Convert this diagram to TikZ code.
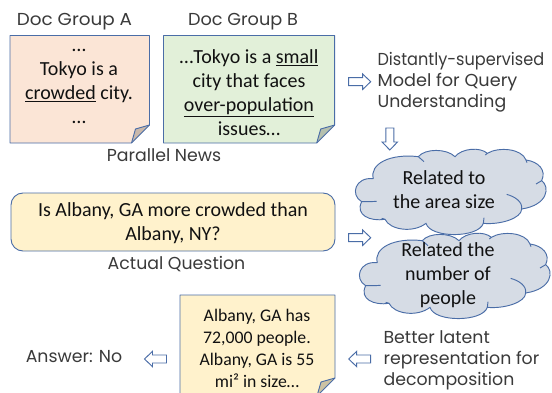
\documentclass[tikz,border=0pt]{standalone}
\usepackage{fontspec}
\usepackage{graphicx}
\setmainfont{Carlito}
\newfontfamily\labelfont{Poppins}
\definecolor{edge}{HTML}{4A6DA7}
\definecolor{peach}{HTML}{FBE5D6}
\definecolor{mint}{HTML}{E2F0D9}
\definecolor{cream}{HTML}{FFF2CC}
\definecolor{cloudfill}{HTML}{D6DCE5}
\definecolor{foldA}{HTML}{C9B8AB}
\definecolor{foldB}{HTML}{B5C0AE}
\definecolor{foldC}{HTML}{CCC2A3}
\definecolor{inkc}{HTML}{111111}
\definecolor{labelc}{HTML}{3A3A3A}
\newcommand{\docbox}[6]{% x0,y0,x1,y1,fill,fold
  \fill[#5] (#1,#2) -- (#3,#2) -- (#3,#4-18) -- (#3-18,#4) -- (#1,#4) -- cycle;
  \fill[#6] (#3,#4-18) -- (#3-14,#4-14) -- (#3-18,#4) -- cycle;
  \draw[edge,line width=.7pt,line join=round] (#3,#4-18) -- (#3-14,#4-14) -- (#3-18,#4);
  \draw[edge,line width=.7pt,line join=round] (#3-18,#4) -- (#1,#4) -- (#1,#2) -- (#3,#2) -- (#3,#4-18) -- cycle;
}
\newcommand{\cloudshape}[2]{%
  \begin{scope}[shift={(#1,#2)},x=.25pt,y=-.25pt]
  \fill[cloudfill] (70,116) .. controls (58,72) and (120,40) .. (205,50)
    .. controls (225,25) and (290,25) .. (315,50)
    .. controls (335,25) and (390,20) .. (412,40)
    .. controls (445,20) and (515,25) .. (528,60)
    .. controls (565,65) and (590,90) .. (575,122)
    .. controls (600,140) and (595,195) .. (515,207)
    .. controls (515,235) and (450,255) .. (400,250)
    .. controls (385,295) and (240,295) .. (228,250)
    .. controls (190,280) and (120,270) .. (105,238)
    .. controls (60,245) and (15,225) .. (35,185)
    .. controls (0,165) and (15,110) .. (70,116) -- cycle;
  \draw[edge,line width=.7pt] (70,116) .. controls (58,72) and (120,40) .. (205,50)
    .. controls (225,25) and (290,25) .. (315,50)
    .. controls (335,25) and (390,20) .. (412,40)
    .. controls (445,20) and (515,25) .. (528,60)
    .. controls (565,65) and (590,90) .. (575,122)
    .. controls (600,140) and (595,195) .. (515,207)
    .. controls (515,235) and (450,255) .. (400,250)
    .. controls (385,295) and (240,295) .. (228,250)
    .. controls (190,280) and (120,270) .. (105,238)
    .. controls (60,245) and (15,225) .. (35,185)
    .. controls (0,165) and (15,110) .. (70,116);
  \draw[edge,line width=.7pt] (205,50) -- (222,65);
  \draw[edge,line width=.7pt] (412,40) -- (406,45);
  \draw[edge,line width=.7pt] (528,60) -- (531,68);
  \draw[edge,line width=.7pt] (575,122) -- (558,132);
  \draw[edge,line width=.7pt] (515,207) .. controls (518,185) and (495,170) .. (470,163);
  \draw[edge,line width=.7pt] (400,250) -- (402,233);
  \draw[edge,line width=.7pt] (105,238) -- (95,235);
  \draw[edge,line width=.7pt] (35,185) .. controls (50,185) and (65,185) .. (80,184);
  \end{scope}
}
\newcommand{\blockarrow}[3]{% centre x, centre y, rotation
  \draw[edge,fill=white,line width=.7pt,line join=miter,shift={(#1,#2)},rotate=#3]
    (-11,-4) -- (3,-4) -- (3,-7.7) -- (11,0) -- (3,7.7) -- (3,4) -- (-11,4) -- cycle;
}
\tikzset{
  x=.75pt,y=-.75pt,
  lbl/.style={font=\labelfont\fontsize{13}{15.8}\selectfont,text=labelc,inner sep=0pt},
  lblleft/.style={lbl,align=left,anchor=west},
  body/.style={font=\fontsize{15}{18}\selectfont,text=inkc,align=center,inner sep=0pt},
  small/.style={font=\fontsize{13.3}{16.3}\selectfont,text=inkc,align=center,inner sep=0pt},
}
\begin{document}
\begin{tikzpicture}
\clip (0,0) rectangle (552,392);
\fill[white] (0,0) rectangle (552,392);
\docbox{10}{35.5}{149.5}{143}{peach}{foldA}
\docbox{163.5}{35.5}{334.7}{143}{mint}{foldB}
\docbox{180}{295}{335}{396}{cream}{foldC}
\draw[edge,line width=.7pt,fill=cream,rounded corners=9pt] (11,193) rectangle (335,251);
\cloudshape{350}{140}
\cloudshape{354}{224}

\node[lbl] (ga) at (74.5,22) {\scalebox{1.06}[1]{Doc Group A}};
\node[lbl] (gb) at (243,22) {\scalebox{1.02}[1]{Doc Group B}};
\node[lbl] (pn) at (164,155) {Parallel News};
\node[lbl] (aq) at (176.5,264) {Actual Question};
\node[lbl] (an) at (74,357) {Answer: No};
\node[lblleft] (ds) at (377.3,82) {\scalebox{.93}[1]{Distantly-supervised}\\\scalebox{1.02}[1]{Model for Query}\\Understanding};
\node[lblleft] (bl) at (383.3,360) {Better latent\\representation for\\decomposition};

\node[body] (ta) at (79,86.5) {…\\Tokyo is a\\\underline{crowded} city.\\…};
\node[body] (tb) at (249,92.5) {…Tokyo is a \underline{small}\\city that faces\\\underline{over-population}\\issues…};
\node[body] (tq) at (173,223) {Is Albany, GA more crowded than\\Albany, NY?};
\node[small] (tc) at (257,348.5) {Albany, GA has\\72,000 people.\\Albany, GA is 55\\mi² in size…};
\node[body] (c1) at (444,190) {Related to\\the area size};
\node[body] (c2) at (448,275) {Related the\\number of\\people};

\blockarrow{359.7}{81.7}{0}
\blockarrow{389.8}{139}{-90}
\blockarrow{359.7}{237.7}{0}
\blockarrow{359.7}{359}{180}
\blockarrow{155.5}{359}{180}
\end{tikzpicture}
\end{document}
